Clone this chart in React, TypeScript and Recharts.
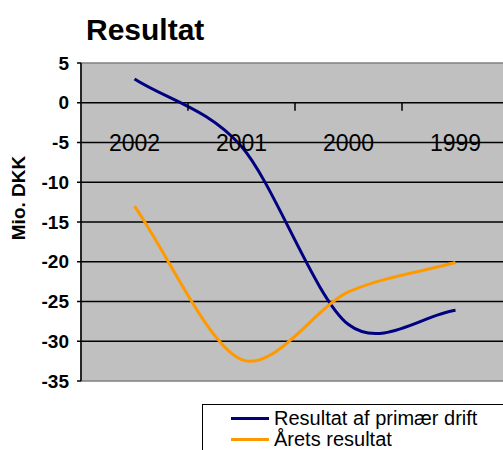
import { LineChart, Line, XAxis, YAxis, CartesianGrid, ReferenceArea, ReferenceLine, ReferenceDot, Legend } from 'recharts';

const years = ['2002', '2001', '2000', '1999'];
const primaerDrift = [3.0, -5.5, -27.9, -26.1];
const aaretsResultat = [-13.0, -32.3, -23.8, -20.1];
const yTicks = [-35, -30, -25, -20, -15, -10, -5, 0, 5];
const xBoundaries = [1, 2, 3];

const FONT = '"Liberation Sans", Arial, sans-serif';
const yMin = yTicks[0];
const yMax = yTicks[yTicks.length - 1];
const xDomain = [0, years.length];

const CHART_W = 520;
const CHART_H = 450;
const MARGIN = { top: 63, right: 11, bottom: 69, left: 0 };
const Y_AXIS_W = 81;

// each year sits in the middle of its category slot on a 0..4 scale
const data = years.map((year, i) => ({
  year,
  pos: i + 0.5,
  primaer: primaerDrift[i],
  aarets: aaretsResultat[i],
}));

// Excel-like smoothing (Catmull-Rom drawn as cubic beziers, ends reflected)
function smoothCurve(context: any) {
  let pts: number[][] = [];
  const k = 6.5;
  return {
    areaStart() {},
    areaEnd() {},
    lineStart() {
      pts = [];
    },
    point(x: number, y: number) {
      pts.push([+x, +y]);
    },
    lineEnd() {
      const n = pts.length;
      if (!n) return;
      context.moveTo(pts[0][0], pts[0][1]);
      if (n < 2) return;
      const get = (i: number) => {
        if (i < 0) return [2 * pts[0][0] - pts[1][0], 2 * pts[0][1] - pts[1][1]];
        if (i > n - 1) return [2 * pts[n - 1][0] - pts[n - 2][0], 2 * pts[n - 1][1] - pts[n - 2][1]];
        return pts[i];
      };
      for (let i = 0; i < n - 1; i++) {
        const p0 = get(i - 1);
        const p1 = get(i);
        const p2 = get(i + 1);
        const p3 = get(i + 2);
        context.bezierCurveTo(
          p1[0] + (p2[0] - p0[0]) / k,
          p1[1] + (p2[1] - p0[1]) / k,
          p2[0] - (p3[0] - p1[0]) / k,
          p2[1] - (p3[1] - p1[1]) / k,
          p2[0],
          p2[1]
        );
      }
    },
  };
}

const renderLegend = (props: any) => (
  <div
    style={{
      border: '1px solid #000',
      background: '#fff',
      padding: '3px 0 0 28px',
      fontFamily: FONT,
      fontSize: 20,
      lineHeight: '21px',
      color: '#000',
      height: 60,
    }}
  >
    {(props.payload || []).map((entry: any) => (
      <div key={entry.value} style={{ display: 'flex', alignItems: 'center', whiteSpace: 'nowrap' }}>
        <span style={{ display: 'inline-block', width: 38, height: 3, background: entry.color, marginRight: 5 }} />
        {entry.value}
      </div>
    ))}
  </div>
);

// y-axis title, plus the small tick marks that hang below the category axis (crossing at 0)
const axisDecor = ({ viewBox }: any) => {
  const plotLeft = viewBox.x + viewBox.width;
  const plotWidth = CHART_W - MARGIN.right - plotLeft;
  const zeroY = viewBox.y + (viewBox.height * (yMax - 0)) / (yMax - yMin);
  const labelX = viewBox.x + 18;
  return (
    <g>
      <text
        x={labelX}
        y={198}
        transform={`rotate(-90, ${labelX}, 198)`}
        textAnchor="middle"
        dominantBaseline="central"
        fill="#000"
        fontSize={19}
        fontWeight="bold"
        fontFamily={FONT}
      >
        Mio. DKK
      </text>
      {xBoundaries.map((b) => {
        const x = plotLeft + (plotWidth * (b - xDomain[0])) / (xDomain[1] - xDomain[0]);
        return <line key={b} x1={x} y1={zeroY} x2={x} y2={zeroY + 8} stroke="#000" strokeWidth={1.5} />;
      })}
    </g>
  );
};

export default function App() {
  return (
    <div style={{ position: 'absolute', left: 0, top: 0, width: 503, height: 450, overflow: 'hidden', background: '#fff' }}>
      <div style={{ position: 'relative', width: CHART_W, height: CHART_H }}>
        <LineChart width={CHART_W} height={CHART_H} data={data} margin={MARGIN}>
          <CartesianGrid horizontal={false} vertical={false} fill="#c0c0c0" fillOpacity={1} stroke="none" />
          <XAxis type="number" dataKey="pos" domain={xDomain} hide />
          <ReferenceArea y1={yMin} y2={yMax} fill="none" fillOpacity={0} stroke="#808080" strokeWidth={1.5} />
          {yTicks
            .filter((t) => t > yMin && t < yMax)
            .map((t) => (
              <ReferenceLine key={t} y={t} stroke="#000" strokeWidth={1.6} />
            ))}
          {data.map((d) => (
            <ReferenceDot
              key={`lbl-${d.year}`}
              x={d.pos}
              y={-5}
              r={0}
              fill="none"
              stroke="none"
              label={{ value: d.year, position: 'center', fill: '#000', fontSize: 23, fontFamily: FONT }}
            />
          ))}
          <YAxis
            width={Y_AXIS_W}
            domain={[yMin, yMax]}
            ticks={yTicks}
            interval={0}
            axisLine={{ stroke: '#000', strokeWidth: 1.5 }}
            tickLine={{ stroke: '#000', strokeWidth: 1.5 }}
            tickSize={4}
            tickMargin={8}
            tick={{ fill: '#000', fontSize: 19, fontWeight: 'bold', fontFamily: FONT }}
            label={axisDecor}
          />
          <Line
            type={smoothCurve as any}
            dataKey="primaer"
            name="Resultat af primær drift"
            stroke="#000080"
            strokeWidth={3}
            dot={false}
            isAnimationActive={false}
          />
          <Line
            type={smoothCurve as any}
            dataKey="aarets"
            name="Årets resultat"
            stroke="#ff9900"
            strokeWidth={3}
            dot={false}
            isAnimationActive={false}
          />
          <Legend
            layout="vertical"
            align="center"
            verticalAlign="middle"
            content={renderLegend}
            wrapperStyle={{ left: 202, top: 404, width: 330 }}
          />
        </LineChart>
        <div
          style={{
            position: 'absolute',
            left: 86,
            top: 15,
            fontFamily: FONT,
            fontWeight: 'bold',
            fontSize: 30,
            lineHeight: '30px',
            color: '#000',
          }}
        >
          Resultat
        </div>
      </div>
    </div>
  );
}
